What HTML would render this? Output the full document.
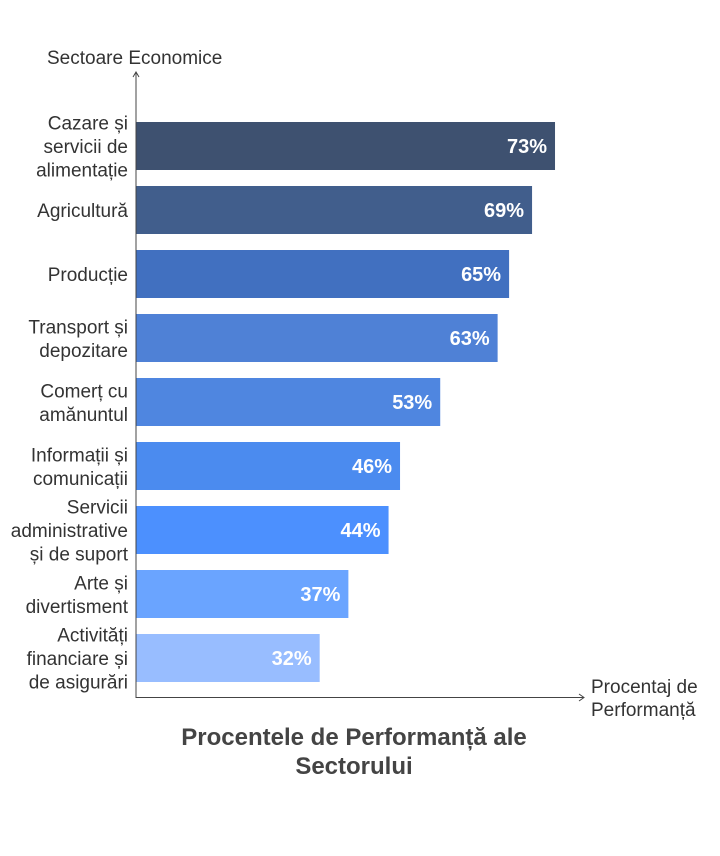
<!DOCTYPE html>
<html><head><meta charset="utf-8">
<style>
html,body{margin:0;padding:0;background:#fff;}
svg{display:block;font-family:"Liberation Sans",sans-serif;}
</style></head>
<body>
<svg id="chart" width="720" height="856">
<text x="47" y="64" font-size="19" fill="#333">Sectoare Economice</text>
<text x="591" y="693" font-size="19" fill="#333"><tspan x="591">Procentaj de</tspan><tspan x="591" dy="23">Performanță</tspan></text>
<text text-anchor="middle" font-size="24" font-weight="bold" fill="#444"><tspan x="354" y="745">Procentele de Performanță ale</tspan><tspan x="354" dy="29">Sectorului</tspan></text>
<g id="bars"></g>
<line x1="136" y1="73" x2="136" y2="698" stroke="#444" stroke-width="1"/>
<polyline points="133,77 136,72 139,77" fill="none" stroke="#444"/>
<line x1="136" y1="697.5" x2="584" y2="697.5" stroke="#444" stroke-width="1"/>
<polyline points="579,694 584,697.5 579,701" fill="none" stroke="#444"/>
</svg>
<script>
const categories = [
  ["Cazare și","servicii de","alimentație"],
  ["Agricultură"],
  ["Producție"],
  ["Transport și","depozitare"],
  ["Comerț cu","amănuntul"],
  ["Informații și","comunicații"],
  ["Servicii","administrative","și de suport"],
  ["Arte și","divertisment"],
  ["Activități","financiare și","de asigurări"]
];
const values = [73,69,65,63,53,46,44,37,32];
const valueLabels = ["73%","69%","65%","63%","53%","46%","44%","37%","32%"];
const colors = ["#3e5170","#415e8c","#4170c0","#4f81d6","#4f86e0","#4b8bef","#4c90fe","#6aa4ff","#98bdff"];

const NS="http://www.w3.org/2000/svg";
const x0=136, pxPerUnit=574/100;
const xScale=v=>x0+v*pxPerUnit;
const yTop=122, step=64, barH=48;
const yScale=i=>yTop+i*step;
const g=document.getElementById('bars');
values.forEach((v,i)=>{
  const y=yScale(i);
  const r=document.createElementNS(NS,'rect');
  r.setAttribute('x',x0); r.setAttribute('y',y);
  r.setAttribute('width',xScale(v)-x0); r.setAttribute('height',barH);
  r.setAttribute('fill',colors[i]);
  
  
  g.appendChild(r);
  const t=document.createElementNS(NS,'text');
  t.setAttribute('x',xScale(v)-8); t.setAttribute('y',y+barH/2+7);
  t.setAttribute('text-anchor','end'); t.setAttribute('fill','#fff');
  t.setAttribute('font-size','20'); t.setAttribute('font-weight','bold');
  t.textContent=valueLabels[i];
  
  
  g.appendChild(t);
  const lines=categories[i];
  const lh=23.5;
  const l=document.createElementNS(NS,'text');
  l.setAttribute('text-anchor','end'); l.setAttribute('font-size','19'); l.setAttribute('fill','#333');
  
  
  const startY=y+barH/2+7-(lines.length-1)*lh/2;
  lines.forEach((s,k)=>{
    const ts=document.createElementNS(NS,'tspan');
    ts.setAttribute('x',128); ts.setAttribute('y',startY+k*lh);
    ts.textContent=s; l.appendChild(ts);
  });
  g.appendChild(l);
});
</script>
</body></html>
